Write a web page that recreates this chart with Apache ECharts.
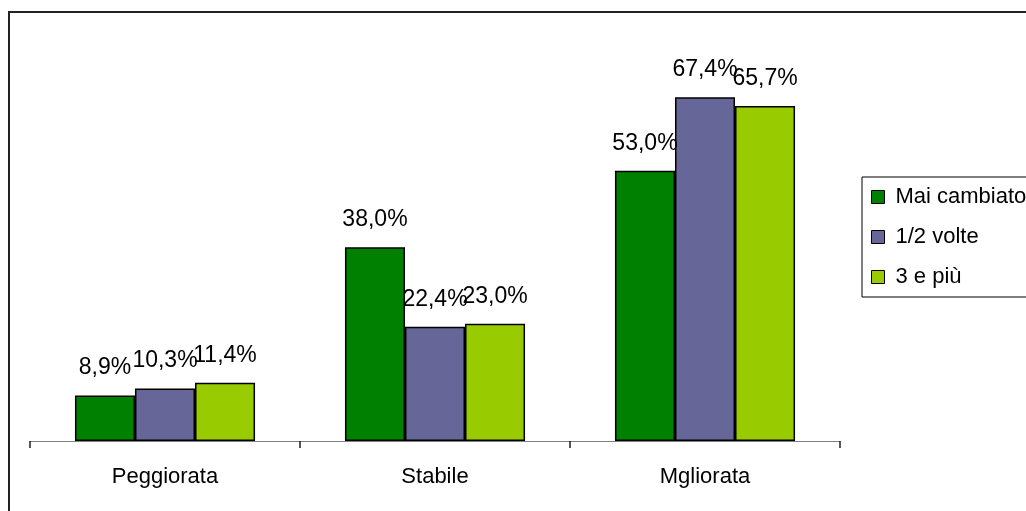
<!DOCTYPE html>
<html>
<head>
<meta charset="utf-8">
<script src="https://cdn.jsdelivr.net/npm/echarts@6/dist/echarts.min.js"></script>
<style>
html,body{margin:0;padding:0;background:#fff;}
#chart{width:1026px;height:511px;}
</style>
</head>
<body>
<div id="chart"></div>
<script>
const categories = ['Peggiorata', 'Stabile', 'Mgliorata'];
const seriesNames = ['Mai cambiato', '1/2 volte', '3 e più'];
const maiCambiato = [8.9, 38.0, 53.0];
const unoDueVolte = [10.3, 22.4, 67.4];
const treEPiu = [11.4, 23.0, 65.7];
const colors = ['#008000', '#666699', '#99CC00'];

const font = "'Liberation Sans', Arial, sans-serif";
const chart = echarts.init(document.getElementById('chart'));
const dataSets = [maiCambiato, unoDueVolte, treEPiu];

chart.setOption({
  animation: false,
  backgroundColor: '#fff',
  textStyle: { fontFamily: font },
  graphic: [{
    type: 'rect',
    shape: { x: 9, y: 12, width: 1200, height: 700 },
    style: { fill: 'none', stroke: '#222', lineWidth: 2 },
    silent: true
  }],
  grid: { left: 30, right: 186, top: 33, bottom: 70 },
  legend: {
    orient: 'vertical',
    left: 862,
    top: 177,
    padding: [9, 12, 9, 9],
    itemWidth: 13,
    itemHeight: 13,
    itemGap: 18,
    borderColor: '#000',
    borderWidth: 1,
    icon: 'rect',
    itemStyle: { borderColor: '#000', borderWidth: 1 },
    textStyle: { fontSize: 22, color: '#000', fontFamily: font, padding: [0, 0, 0, 6] },
    data: seriesNames
  },
  xAxis: {
    type: 'category',
    data: categories,
    axisLine: { lineStyle: { color: '#808080', width: 1 } },
    axisTick: { show: true, length: 7, lineStyle: { color: '#222', width: 1.5 } },
    axisLabel: { fontSize: 22, color: '#000', margin: 25, fontFamily: font }
  },
  yAxis: {
    type: 'value',
    min: 0,
    max: 80,
    show: false,
    splitLine: { show: false }
  },
  series: dataSets.map((d, i) => ({
    name: seriesNames[i],
    type: 'bar',
    data: d,
    barGap: '0%',
    barCategoryGap: '33.3%',
    itemStyle: { color: colors[i], borderColor: '#000', borderWidth: 1.5 },
    label: {
      show: true,
      position: 'top',
      distance: 16,
      fontSize: 23,
      color: '#000',
      fontFamily: font,
      formatter: p => p.value.toFixed(1).replace('.', ',') + '%'
    }
  }))
});
</script>
</body>
</html>
